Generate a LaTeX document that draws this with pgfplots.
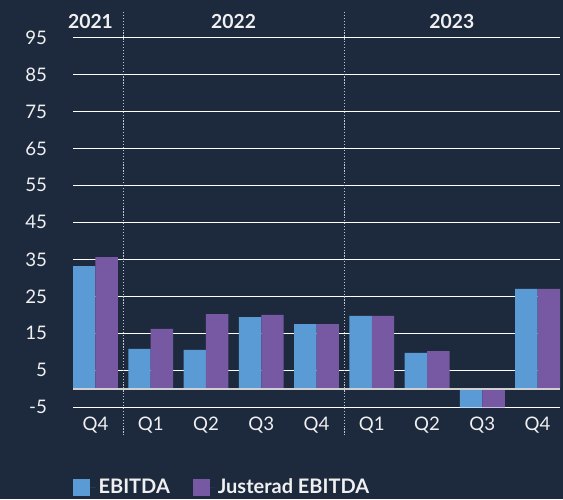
\documentclass[border=0pt]{standalone}
\usepackage{fontspec}
\setmainfont{Lato}
\usepackage{pgfplots}
\pgfplotsset{compat=1.18}

\definecolor{bg}{RGB}{29,42,61}
\definecolor{ebitda}{RGB}{91,155,213}
\definecolor{justerad}{RGB}{118,88,163}
\definecolor{txt}{RGB}{240,240,240}
\definecolor{sep}{RGB}{190,198,208}

\begin{document}
\begin{tikzpicture}
% page = 563 x 499 px at 0.75pt/px
\fill[bg] (0,0) rectangle (422.25pt,374.25pt);
\begin{axis}[
    at={(54.75pt,68.8pt)}, anchor=south west,
    scale only axis,
    width=365.25pt, height=277.35pt,
    ybar=0pt,
    bar width=0.407,
    xmin=-0.407, xmax=8.407,
    ymin=-5, ymax=95,
    xtick={0,...,8},
    xticklabels={Q4,Q1,Q2,Q3,Q4,Q1,Q2,Q3,Q4},
    ytick={-5,5,15,25,35,45,55,65,75,85,95},
    major tick length=0pt,
    axis line style={draw=none},
    ymajorgrids,
    grid style={white, line width=0.8pt},
    tick label style={font=\fontsize{14}{16}\selectfont, text=txt},
    /pgf/number format/assume math mode=true,
    y tick label style={xshift=-16pt},
    x tick label style={yshift=-4pt},
    clip=false,
    legend style={at={(0,-0.217)}, anchor=west, draw=none, fill=none,
        inner sep=0pt, text=txt, font=\bfseries\fontsize{15}{17}\selectfont,
        /tikz/every even column/.append style={column sep=15pt}},
    legend columns=2,
    legend cell align=left,
    legend image code/.code={\fill[#1] (0pt,-6.4pt) rectangle (12.75pt,6.4pt);
        \path (0pt,0pt) -- (17pt,0pt);},
]
\addplot[fill=ebitda, draw=none] coordinates {
    (0,33.2) (1,10.8) (2,10.5) (3,19.4) (4,17.5) (5,19.7) (6,9.7) (7,-5) (8,27.0)};
\addplot[fill=justerad, draw=none] coordinates {
    (0,35.6) (1,16.2) (2,20.2) (3,20.0) (4,17.5) (5,19.7) (6,10.2) (7,-5) (8,27.0)};
\legend{EBITDA, Justerad EBITDA}
\draw[color={rgb,255:red,208;green,208;blue,208}, line width=1.8pt]
    (axis cs:-0.407,0) -- (axis cs:8.407,0);
\draw[sep, line width=0.9pt, dash pattern=on 0.9pt off 1.3pt]
    (axis cs:0.5,101.9) -- (axis cs:0.5,-12.5);
\draw[sep, line width=0.9pt, dash pattern=on 0.9pt off 1.3pt]
    (axis cs:4.5,101.9) -- (axis cs:4.5,-12.5);
\node[text=txt, font=\bfseries\fontsize{14.5}{16}\selectfont] at (axis cs:-0.09,99.3) {2021};
\node[text=txt, font=\bfseries\fontsize{14.5}{16}\selectfont] at (axis cs:2.5,99.3) {2022};
\node[text=txt, font=\bfseries\fontsize{14.5}{16}\selectfont] at (axis cs:6.45,99.3) {2023};
\end{axis}
\end{tikzpicture}
\end{document}
